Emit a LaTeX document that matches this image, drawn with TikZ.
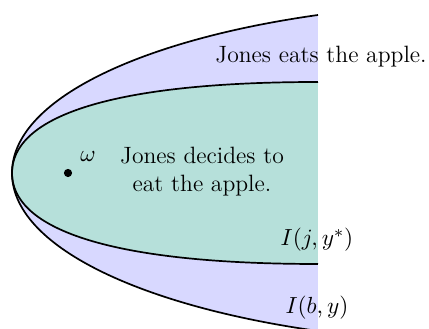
\documentclass[tikz,border=0pt]{standalone}
\definecolor{outerfill}{RGB}{216,216,255}
\definecolor{innerfill}{RGB}{182,224,218}
\begin{document}
\begin{tikzpicture}[x=0.47pt,y=-0.47pt,font=\fontsize{11.1}{13.2}\selectfont]
  \useasboundingbox (0,0) rectangle (429,329);
  \clip (0,0) rectangle (429,329);
  % outer set
  \fill[outerfill] (318,15) .. controls (140,40) and (12,100) .. (12,173)
    .. controls (12,246) and (140,306) .. (318,331) -- cycle;
  % inner set
  \fill[innerfill] (318,82) .. controls (100,82) and (12,120) .. (12,173)
    .. controls (12,226) and (100,264) .. (318,264) -- cycle;
  \draw[thick] (318,15) .. controls (140,40) and (12,100) .. (12,173)
    .. controls (12,246) and (140,306) .. (318,331);
  \draw[thick] (318,82) .. controls (100,82) and (12,120) .. (12,173)
    .. controls (12,226) and (100,264) .. (318,264);
  \filldraw (68,173) circle (1.7pt);
  \node (omega) at (88,156) {$\omega$};
  \node[anchor=base] (eats) at (321,63) {Jones eats the apple.};
  \node[align=center] (decides) at (202,172) {Jones decides to\\eat the apple.};
  \node (ijy) at (317,240) {$I(j,y^*)$};
  \node (iby) at (317,308) {$I(b,y)$};
\end{tikzpicture}
\end{document}
